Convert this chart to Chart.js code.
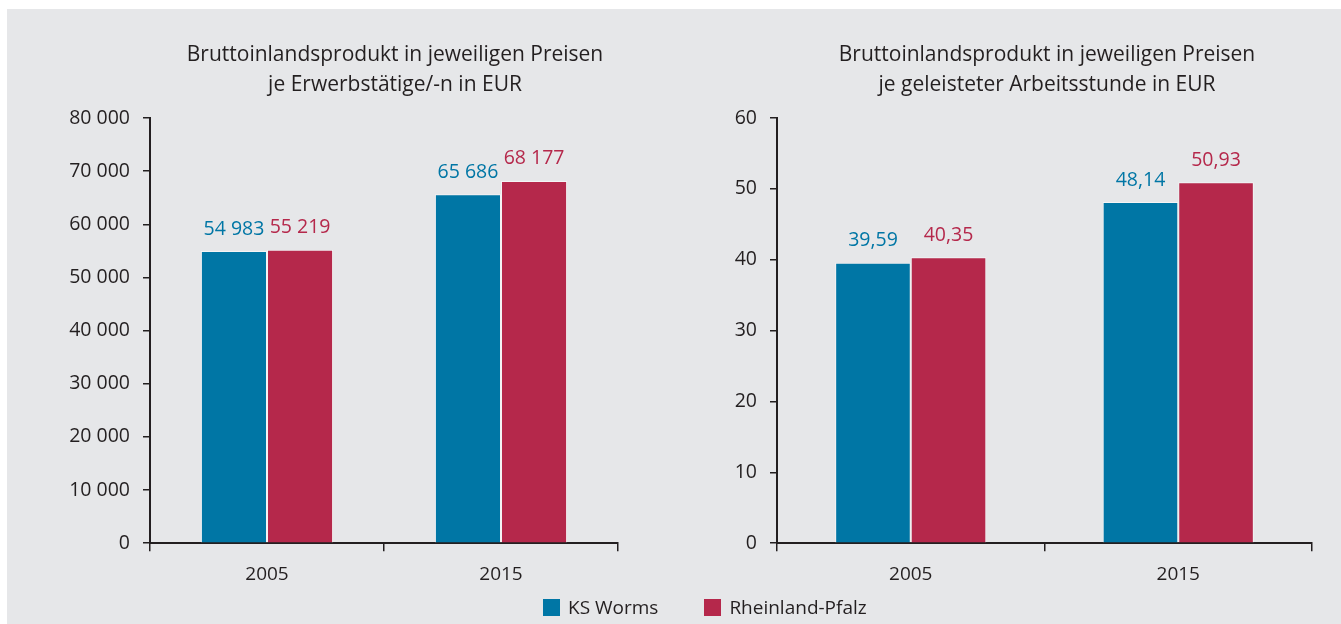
<!DOCTYPE html>
<html>
<head>
<meta charset="utf-8">
<script src="https://cdn.jsdelivr.net/npm/chart.js@4.4.1/dist/chart.umd.min.js"></script>
<style>
  body { margin: 0; width: 1341px; height: 624px; background: #fff; position: relative; overflow: hidden; font-family: "Open Sans", sans-serif; }
  #bg { position: absolute; left: 7px; top: 9px; right: 0; bottom: 0; background: #e6e7e9; }
  .box { position: absolute; top: 0; height: 600px; }
  #box1 { left: 0; width: 730px; }
  #box2 { left: 680px; width: 687px; }
  #legend { position: absolute; top: 594px; left: 543px; font-size: 19px; color: #231f20; white-space: nowrap; }
  #legend span.sq { display: inline-block; width: 17px; height: 17px; vertical-align: -2px; margin-right: 8px; }
  #legend span.item { margin-right: 46px; }
</style>
</head>
<body>
<div id="bg"></div>
<div class="box" id="box1"><canvas id="chart1"></canvas></div>
<div class="box" id="box2"><canvas id="chart2"></canvas></div>
<div id="legend"></div>

<script>
// Daten
const jahre = ['2005', '2015'];
const serien = ['KS Worms', 'Rheinland-Pfalz'];
const bipJeErwerbstaetige = {
  worms: [54983, 65686],
  rlp: [55219, 68177]
};
const bipJeStunde = {
  worms: [39.59, 48.14],
  rlp: [40.35, 50.93]
};
const ticks1 = [0, 10000, 20000, 30000, 40000, 50000, 60000, 70000, 80000];
const ticks2 = [0, 10, 20, 30, 40, 50, 60];

const blau = '#0076a5';
const rot = '#b5284b';
const text = '#231f20';
const schrift = '"Open Sans", sans-serif';

const tausender = v => String(v).replace(/\B(?=(\d{3})+(?!\d))/g, ' ');
const komma = v => v.toFixed(2).replace('.', ',');

// Werte ueber den Balken
const wertLabels = {
  id: 'wertLabels',
  afterDatasetsDraw(chart, args, opts) {
    const ctx = chart.ctx;
    chart.data.datasets.forEach((ds, i) => {
      chart.getDatasetMeta(i).data.forEach((bar, j) => {
        ctx.save();
        ctx.fillStyle = ds.backgroundColor;
        ctx.font = '19.5px ' + schrift;
        ctx.textAlign = 'center';
        ctx.textBaseline = 'middle';
        ctx.fillText(opts.format(ds.data[j]), bar.x, bar.y - 22);
        ctx.restore();
      });
    });
  }
};

function diagramm(id, titel, werte, tickWerte, format, pad) {
  return new Chart(document.getElementById(id), {
    type: 'bar',
    data: {
      labels: jahre,
      datasets: [
        { label: serien[0], data: werte.worms, backgroundColor: blau, borderColor: 'rgba(255,255,255,0.55)', borderWidth: 1 },
        { label: serien[1], data: werte.rlp, backgroundColor: rot, borderColor: 'rgba(255,255,255,0.55)', borderWidth: 1 }
      ]
    },
    plugins: [wertLabels],
    options: {
      responsive: true,
      maintainAspectRatio: false,
      animation: false,
      events: [],
      datasets: { bar: { barPercentage: 1, categoryPercentage: 0.565 } },
      layout: { padding: { left: pad.left, right: 0, top: 0, bottom: 2 } },
      plugins: {
        legend: { display: false },
        tooltip: { enabled: false },
        title: {
          display: true,
          text: titel,
          color: text,
          font: { family: schrift, size: 21, weight: 'normal', lineHeight: 1.43 },
          padding: { top: 40, bottom: 18 }
        },
        wertLabels: { format: format }
      },
      scales: {
        x: {
          grid: { offset: true, drawOnChartArea: false, tickLength: 8, color: text, lineWidth: 1.5 },
          border: { color: text, width: 2 },
          ticks: { color: text, font: { family: schrift, size: 19 }, padding: 12 }
        },
        y: {
          min: tickWerte[0],
          max: tickWerte[tickWerte.length - 1],
          afterBuildTicks: s => { s.ticks = tickWerte.map(v => ({ value: v })); },
          grid: { drawOnChartArea: false, tickLength: 7, color: text, lineWidth: 1.5 },
          border: { color: text, width: 2 },
          ticks: { color: text, font: { family: schrift, size: 19.5 }, padding: 13, callback: v => format(v, true) },
          afterFit: s => { s.width = pad.axis; }
        },
        rand: {
          position: 'right',
          grid: { display: false },
          border: { display: false },
          ticks: { display: false },
          afterFit: s => { s.width = pad.right; }
        }
      }
    }
  });
}

diagramm('chart1',
  ['Bruttoinlandsprodukt in jeweiligen Preisen', 'je Erwerbstätige/-n in EUR'],
  bipJeErwerbstaetige, ticks1, v => tausender(v),
  { left: 60, axis: 90, right: 112 });

diagramm('chart2',
  ['Bruttoinlandsprodukt in jeweiligen Preisen', 'je geleisteter Arbeitsstunde in EUR'],
  bipJeStunde, ticks2, (v, tick) => tick ? String(v) : komma(v),
  { left: 47, axis: 50, right: 55 });

// Legende
document.getElementById('legend').innerHTML =
  '<span class="item"><span class="sq" style="background:' + blau + '"></span>' + serien[0] + '</span>' +
  '<span><span class="sq" style="background:' + rot + '"></span>' + serien[1] + '</span>';
</script>
</body>
</html>
